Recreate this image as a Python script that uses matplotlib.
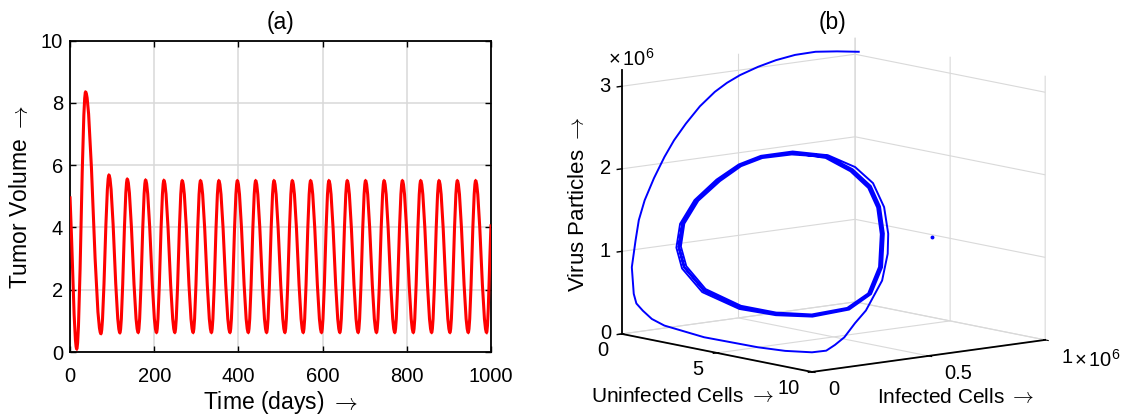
import numpy as np
import matplotlib
matplotlib.use('Agg')
import matplotlib.pyplot as plt
from matplotlib.path import Path
from matplotlib.patches import PathPatch

plt.rcParams['font.family'] = ['Liberation Sans', 'DejaVu Sans']
plt.rcParams['mathtext.fontset'] = 'custom'
plt.rcParams['mathtext.rm'] = 'Liberation Sans'
plt.rcParams['mathtext.it'] = 'Liberation Sans:italic'
plt.rcParams['grid.color'] = '#d9d9d9'
plt.rcParams['grid.linewidth'] = 0.8

W, H = 1123, 419
FS_TICK = 14.5
FS_LABEL = 16.5
FS_LABEL3D = 15

# ---------------- data: panel (a) turning points of tumor volume -------------
tumor_turn_days = [0, 16, 37, 73.5, 92.5, 118.5, 136, 162, 179.5, 205.5, 223,
                   249, 266.5, 292.5, 310, 336, 353.5, 380, 397.5, 423.5, 441,
                   467, 484.5, 510.5, 528, 554, 571.5, 597.5, 615, 641, 658.5,
                   684.5, 702, 728, 746, 771.5, 789.5, 815.5, 833, 859, 876.5,
                   902.5, 920, 946, 963.5, 989.5, 1000]
tumor_turn_values = [5.0, 0.1, 8.35, 0.59, 5.68, 0.62, 5.55, 0.63, 5.52, 0.63, 5.51,
                     0.63, 5.5, 0.63, 5.5, 0.63, 5.5, 0.63, 5.5, 0.63, 5.5, 0.63, 5.5,
                     0.63, 5.5, 0.63, 5.5, 0.63, 5.5, 0.63, 5.5, 0.63, 5.5, 0.63, 5.5,
                     0.63, 5.5, 0.63, 5.5, 0.63, 5.5, 0.63, 5.5, 0.63, 5.5,
                     0.63, 4.1]
time_ticks = [0, 200, 400, 600, 800, 1000]
volume_ticks = [0, 2, 4, 6, 8, 10]

# ---------------- data: panel (b) phase trajectory (infected / virus in 10^6) --
transient_uninfected = [0.3, 0.3, 0.3, 0.3, 0.3, 0.3, 0.3, 0.3, 0.3, 0.3,
                        0.3, 0.3, 0.3, 0.3, 0.3, 0.3, 0.3, 0.3, 0.5, 0.7,
                        1.0, 1.5, 2.0, 3.5, 5.5, 6.5, 7.3, 7.4, 7.0, 6.5,
                        6.0, 5.5, 4.5, 3.8, 3.3, 2.9, 2.5, 2.1, 1.8]
transient_infected = [0.991, 0.898, 0.806, 0.718, 0.636, 0.559, 0.482, 0.426, 0.374, 0.310,
                      0.250, 0.199, 0.158, 0.113, 0.073, 0.048, 0.034, 0.018, 0.010, 0.005,
                      0.008, 0.006, 0.019, 0.067, 0.135, 0.170, 0.220, 0.273, 0.343, 0.424,
                      0.511, 0.598, 0.749, 0.830, 0.873, 0.888, 0.873, 0.829, 0.737]
transient_virus = [3.047, 3.088, 3.119, 3.115, 3.083, 3.032, 2.962, 2.890, 2.801, 2.651,
                   2.465, 2.282, 2.097, 1.857, 1.604, 1.374, 1.132, 0.815, 0.504, 0.399,
                   0.325, 0.248, 0.186, 0.095, 0.039, 0.028, 0.028, 0.032, 0.056, 0.094,
                   0.210, 0.305, 0.563, 0.824, 1.027, 1.325, 1.603, 1.796, 1.961]

cycle_uninfected = [1.5, 1.3, 1.2, 1.1, 1.0, 1.0, 1.1, 1.3, 1.7, 2.3, 2.9, 3.3, 3.5,
                    3.4, 3.1, 2.8, 2.5, 2.2, 1.9, 1.7]
outer_cycle_infected = [0.610, 0.490, 0.403, 0.316, 0.230, 0.168, 0.144, 0.152, 0.206,
                        0.316, 0.424, 0.548, 0.689, 0.791, 0.863, 0.895, 0.903, 0.888,
                        0.834, 0.741]
outer_cycle_virus = [2.042, 2.027, 1.951, 1.797, 1.578, 1.314, 1.040, 0.794, 0.505,
                     0.286, 0.196, 0.149, 0.189, 0.332, 0.616, 0.998, 1.309, 1.548,
                     1.759, 1.949]
mid_cycle_infected = [0.608, 0.493, 0.409, 0.324, 0.239, 0.178, 0.154, 0.161, 0.213,
                      0.319, 0.424, 0.546, 0.684, 0.785, 0.856, 0.888, 0.897, 0.883,
                      0.830, 0.738]
mid_cycle_virus = [2.025, 2.013, 1.939, 1.785, 1.571, 1.312, 1.043, 0.806, 0.522,
                   0.306, 0.212, 0.162, 0.200, 0.338, 0.620, 0.998, 1.305, 1.539,
                   1.748, 1.937]
inner_cycle_infected = [0.606, 0.496, 0.413, 0.331, 0.246, 0.186, 0.163, 0.170, 0.220,
                        0.323, 0.425, 0.545, 0.681, 0.779, 0.850, 0.882, 0.891, 0.877,
                        0.825, 0.735]
inner_cycle_virus = [2.008, 1.998, 1.927, 1.774, 1.564, 1.310, 1.047, 0.815, 0.536,
                     0.321, 0.227, 0.176, 0.212, 0.345, 0.624, 0.995, 1.300, 1.530,
                     1.738, 1.925]
marker_point = (5.0, 0.921, 1.046)

uninfected_ticks = [0, 5, 10]
infected_ticks = [0, 0.5, 1]
virus_ticks = [0, 1, 2, 3]


def fx(px):
    return px / W


def fy(py):
    return 1 - py / H


fig = plt.figure(figsize=(W / 100, H / 100), dpi=100)

# ---------------- panel (a) ----------------
ax1 = fig.add_axes([fx(70), fy(352), fx(491) - fx(70), fy(40.7) - fy(352)])
ax1.set_xlim(0, 1000)
ax1.set_ylim(0, 10)
ax1.set_xticks(time_ticks)
ax1.set_yticks(volume_ticks)
ax1.tick_params(direction='in', length=4, width=1.0, top=True, right=True,
                labelsize=FS_TICK, colors='black')
ax1.tick_params(axis='x', pad=11)
ax1.tick_params(axis='y', pad=5)
ax1.grid(True, color='#d9d9d9', linewidth=1.1)
ax1.set_axisbelow(True)
for sp in ax1.spines.values():
    sp.set_linewidth(1.3)

K = 0.364
n = len(tumor_turn_days)
verts = [(tumor_turn_days[0], tumor_turn_values[0])]
codes = [Path.MOVETO]
for i in range(n - 1):
    t0, v0 = tumor_turn_days[i], tumor_turn_values[i]
    t1, v1 = tumor_turn_days[i + 1], tumor_turn_values[i + 1]
    dt = t1 - t0
    if i == 0:
        c1 = (t0 + dt / 3, v0 + (v1 - v0) / 3)
    else:
        c1 = (t0 + K * dt, v0)
    if i == n - 2:
        c2 = (t1 - dt / 3, v1 - (v1 - v0) / 3)
    else:
        c2 = (t1 - K * dt, v1)
    verts += [c1, c2, (t1, v1)]
    codes += [Path.CURVE4] * 3
ax1.add_patch(PathPatch(Path(verts, codes), fill=False, edgecolor='#ff0000',
                        linewidth=2.2, zorder=3))

fig.text(fx(281), fy(22), '(a)', ha='center', va='center', fontsize=FS_LABEL)
fig.text(fx(280), fy(402), r'Time (days) $\rightarrow$', ha='center', va='center',
         fontsize=FS_LABEL, math_fontfamily='cm')
fig.text(fx(21), fy(197), r'Tumor Volume $\rightarrow$', ha='center', va='center',
         rotation=90, fontsize=FS_LABEL, math_fontfamily='cm')

# ---------------- panel (b) ----------------
ax2 = fig.add_axes([0.52, 0.05, 0.45, 0.9], projection='3d')
ax2.set_proj_type('ortho')
ax2.view_init(elev=9.54, azim=-39.65)
ax2.set_box_aspect((298, 303, 268))
ax2.set_xlim(0, 10)
ax2.set_ylim(0, 1)
ax2.set_zlim(0, 3.2)
ax2.set_xticks(uninfected_ticks)
ax2.set_yticks(infected_ticks)
ax2.set_zticks(virus_ticks)
ax2.set_xticklabels([])
ax2.set_yticklabels([])
ax2.set_zticklabels([])
for axis in (ax2.xaxis, ax2.yaxis, ax2.zaxis):
    axis.set_pane_color((1, 1, 1, 0))
    axis.pane.set_edgecolor((1, 1, 1, 0))
    axis.line.set_color('black')
    axis.line.set_linewidth(1.3)
# z axis is drawn by hand on the left corner, as in the reference
ax2.zaxis.line.set_visible(False)
ax2.tick_params(axis='z', colors=(0, 0, 0, 0))
ax2.plot([0, 0], [0, 0], [0, 3.2], color='black', linewidth=1.3)
for v in virus_ticks:
    ax2.plot([0, 0], [0, -0.02], [v, v], color='black', linewidth=1.0)

traj_x = transient_uninfected + cycle_uninfected * 4 + cycle_uninfected[:1]
traj_y = (transient_infected + outer_cycle_infected + mid_cycle_infected
          + inner_cycle_infected + mid_cycle_infected + mid_cycle_infected[:1])
traj_z = (transient_virus + outer_cycle_virus + mid_cycle_virus
          + inner_cycle_virus + mid_cycle_virus + mid_cycle_virus[:1])
ax2.plot(traj_x, traj_y, traj_z, color='#0000ff', linewidth=1.4)
ax2.plot([marker_point[0]], [marker_point[1]], [marker_point[2]], 'o',
         color='#0000ff', markersize=1.8)

# fit the projected box onto the reference layout
targets = np.array([[622, H - 334], [812, H - 372], [1045, H - 340], [622, H - 69.5]])
box_pts = [(0, 0, 0), (10, 0, 0), (10, 1, 0), (0, 0, 3.2)]


def to_disp(x, y, z):
    M = ax2.get_proj()
    v = M @ np.array([x, y, z, 1.0])
    return ax2.transData.transform((v[0] / v[3], v[1] / v[3]))


for _ in range(3):
    fig.canvas.draw()
    p = np.array([to_disp(*b) for b in box_pts])
    pm, qm = p.mean(0), targets.mean(0)
    s = ((p - pm) * (targets - qm)).sum() / ((p - pm) ** 2).sum()
    t = qm - s * pm
    bb = ax2.get_position()
    x0, y0 = s * bb.x0 * W + t[0], s * bb.y0 * H + t[1]
    x1, y1 = s * bb.x1 * W + t[0], s * bb.y1 * H + t[1]
    ax2.set_position([x0 / W, y0 / H, (x1 - x0) / W, (y1 - y0) / H])
fig.canvas.draw()


def label_at(pt, dx, dy, s, ha):
    d = to_disp(*pt)
    fig.text((d[0] + dx) / W, (d[1] + dy) / H, s, ha=ha, va='center',
             fontsize=FS_TICK)


for v in uninfected_ticks:
    label_at((v, 0, 0), -12 if v == 10 else -14, -17, f'{v:g}', 'right')
for v in infected_ticks:
    label_at((10, v, 0), 16, -18, f'{v:g}', 'left')
for v in virus_ticks:
    label_at((0, 0, v), -11, 0, f'{v:g}', 'right')

fig.text(fx(608), fy(66), r'$\times\,10^{6}$', ha='left', va='baseline', fontsize=FS_TICK)
fig.text(fx(1074), fy(367), r'$\times\,10^{6}$', ha='left', va='baseline', fontsize=FS_TICK)
fig.text(fx(833), fy(22), '(b)', ha='center', va='center', fontsize=FS_LABEL)
fig.text(fx(683), fy(396), r'Uninfected Cells $\rightarrow$', ha='center', va='center',
         fontsize=FS_LABEL3D, math_fontfamily='cm')
fig.text(fx(956), fy(397), r'Infected Cells $\rightarrow$', ha='center', va='center',
         fontsize=FS_LABEL3D, math_fontfamily='cm')
fig.text(fx(578), fy(204), r'Virus Particles $\rightarrow$', ha='center', va='center',
         rotation=90, fontsize=16, math_fontfamily='cm')

fig.savefig('out.png', dpi=100)
